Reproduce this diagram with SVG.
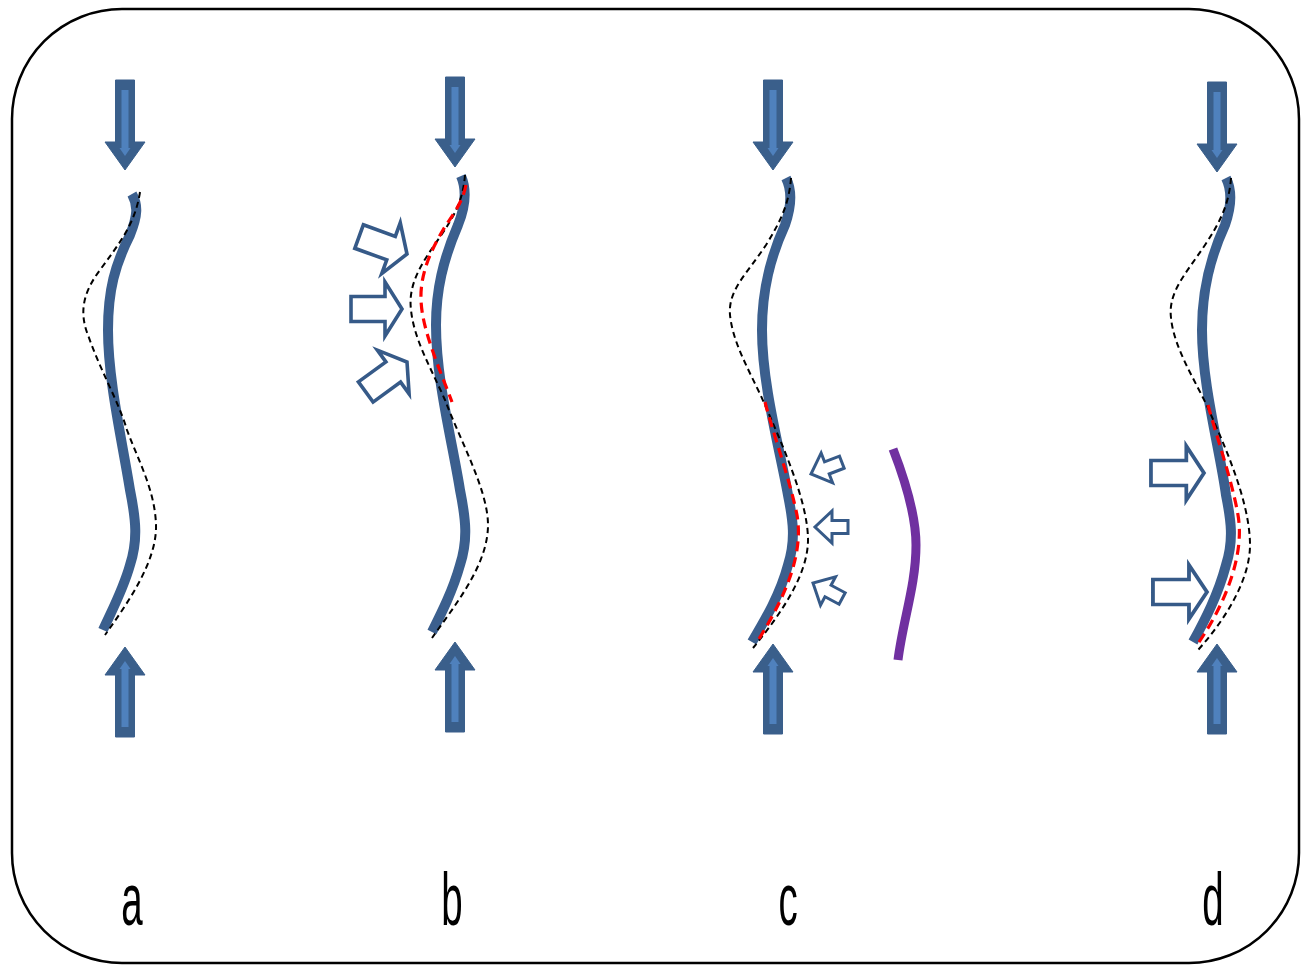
<svg xmlns="http://www.w3.org/2000/svg" xmlns:xlink="http://www.w3.org/1999/xlink" width="1301" height="966" viewBox="0 0 1301 966">
<style>
.frame{fill:none;stroke:#000;stroke-width:2.5}
.rod{fill:none;stroke:#3b5f8e;stroke-width:10;stroke-linecap:butt}
.ref{fill:none;stroke:#000;stroke-width:2;stroke-dasharray:6 4}
.red{fill:none;stroke:#ff0000;stroke-width:3.2;stroke-dasharray:10 6}
.purple{fill:none;stroke:#7030a0;stroke-width:9}
.hollow{fill:#fff;stroke:#365a88;stroke-width:3.6;stroke-linejoin:miter}
.hollowS{fill:#fff;stroke:#365a88;stroke-width:3;stroke-linejoin:miter}
.lbl{font-family:"Liberation Sans",Arial,sans-serif;font-size:74px;fill:#000;text-anchor:middle}
</style>
<defs>
<g id="force">
<path d="M-9.5,0 L9.5,0 L9.5,62 L20,62 L0,90 L-20,62 L-9.5,62 Z" fill="#3a5f8b" stroke="#3a5f8b" stroke-width="1"/>
<path d="M-3.5,10 L3.5,10 L3.5,68 L5.5,68 L0,76 L-5.5,68 L-3.5,68 Z" fill="#4f81bd"/>
</g>
<path id="hArrow" class="hollow" d="M-51,-12.5 L-17,-12.5 L-17,-27 L0,0 L-17,27 L-17,12.5 L-51,12.5 Z"/>
<path id="sArrow" class="hollowS" d="M-33,-6.5 L-17,-6.5 L-17,-16 L0,0 L-17,16 L-17,6.5 L-33,6.5 Z"/>
</defs>
<rect class="frame" x="12" y="9" width="1287" height="954" rx="110" ry="110"/>

<g id="panel-a">
<use xlink:href="#force" transform="translate(125,80)"/>
<use xlink:href="#force" transform="translate(125,737) rotate(180)"/>
<path class="rod" d="M132,194 C138,205 138,215 130,235 C115,265 108,290 108,330 C108,380 122,440 130,490 C136,520 138,540 130,565 C123,590 112,610 103,630"/>
<path class="ref" d="M140,192 C135,225 118,245 100,270 C85,290 78,310 88,335 C100,370 118,400 127,430 C138,460 155,490 156,525 C157,560 130,600 105,635"/>
<text class="lbl" transform="translate(132,925) scale(0.52,1)">a</text>
</g>

<g id="panel-b">
<use xlink:href="#force" transform="translate(455,77)"/>
<use xlink:href="#force" transform="translate(455,732) rotate(180)"/>
<path class="rod" d="M461,176 C467,190 466,205 458,225 C443,260 436,290 436,325 C436,380 452,440 460,490 C466,520 468,540 460,565 C453,590 442,612 432,632"/>
<path class="ref" d="M465,175 C463,200 455,215 440,237 C420,265 408,285 411,310 C414,340 432,370 445,400 C460,440 488,490 488,525 C488,565 455,605 432,638"/>
<path class="red" d="M466,185 C462,205 450,218 443,230 C430,252 420,275 421,300 C422,330 440,370 452,402"/>
<use xlink:href="#hArrow" transform="translate(407,254) rotate(20)"/>
<use xlink:href="#hArrow" transform="translate(402,309)"/>
<use xlink:href="#hArrow" transform="translate(407,362) rotate(-36)"/>
<text class="lbl" transform="translate(452,925) scale(0.52,1)">b</text>
</g>

<g id="panel-c">
<use xlink:href="#force" transform="translate(773,80)"/>
<use xlink:href="#force" transform="translate(773,734) rotate(180)"/>
<path class="rod" d="M786,178 C792,190 792,205 785,225 C770,258 762,290 762,330 C762,385 780,450 788,495 C793,520 796,540 788,565 C780,595 765,620 752,642"/>
<path class="ref" d="M791,178 C789,205 780,222 766,245 C746,275 728,290 730,315 C733,345 752,375 765,405 C780,440 808,500 808,540 C808,575 780,615 753,648"/>
<path class="red" d="M765,402 C772,430 790,480 797,515 C803,550 790,590 757,642"/>
<use xlink:href="#sArrow" transform="translate(811,474) rotate(159)"/>
<use xlink:href="#sArrow" transform="translate(815,527) rotate(180)"/>
<use xlink:href="#sArrow" transform="translate(813,583) rotate(208)"/>
<path class="purple" d="M893,449 C905,480 916,515 916,545 C916,585 903,620 898,660"/>
<text class="lbl" transform="translate(788,925) scale(0.52,1)">c</text>
</g>

<g id="panel-d">
<use xlink:href="#force" transform="translate(1217,82)"/>
<use xlink:href="#force" transform="translate(1217,734) rotate(180)"/>
<path class="rod" d="M1226,178 C1232,190 1232,205 1225,225 C1210,258 1202,290 1202,330 C1202,385 1220,450 1226,495 C1231,520 1234,540 1226,565 C1218,595 1205,620 1193,642"/>
<path class="ref" d="M1231,178 C1229,205 1220,222 1205,245 C1185,275 1168,292 1171,318 C1174,348 1195,380 1208,408 C1222,440 1250,500 1250,545 C1250,580 1225,620 1198,650"/>
<path class="red" d="M1208,405 C1216,435 1232,480 1238,515 C1245,555 1225,605 1197,645"/>
<use xlink:href="#hArrow" transform="translate(1204,473) scale(1.04,1)"/>
<use xlink:href="#hArrow" transform="translate(1207,592) scale(1.06,1)"/>
<text class="lbl" transform="translate(1213,925) scale(0.52,1)">d</text>
</g>
</svg>
